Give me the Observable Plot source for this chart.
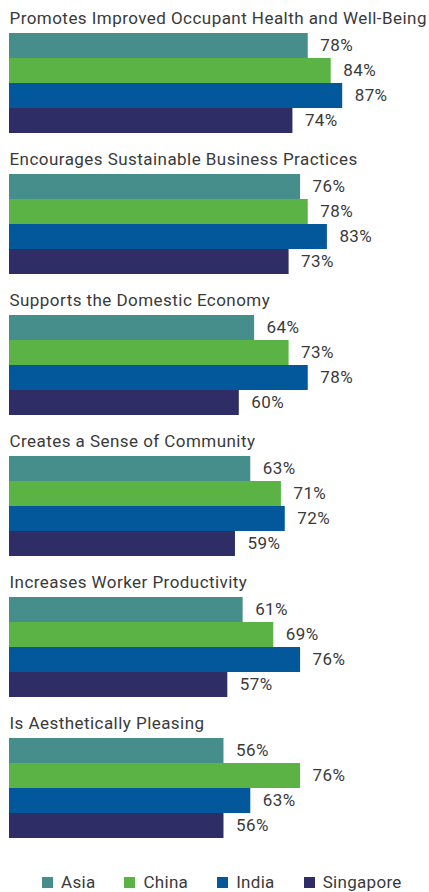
<!DOCTYPE html>
<html>
<head>
<meta charset="utf-8">
<script src="https://cdn.jsdelivr.net/npm/d3@7"></script>
<script src="https://cdn.jsdelivr.net/npm/@observablehq/plot@0.6"></script>
<style>
  html, body { margin: 0; padding: 0; background: #fff; }
  body { width: 429px; overflow: hidden; font-family: Roboto, "Noto Sans", sans-serif; }
  #legend { display: flex; align-items: center; padding-left: 42px; margin-top: 22px; font-size: 17px; color: #3a3a3a; letter-spacing: 0.3px; }
  #legend .item { display: flex; align-items: center; margin-right: 29px; }
  #legend .sw { width: 11px; height: 11px; margin-right: 8px; display: inline-block; }
</style>
</head>
<body>
<div id="chart"></div>
<div id="legend"></div>
<script>
const categories = [
  "Promotes Improved Occupant Health and Well-Being",
  "Encourages Sustainable Business Practices",
  "Supports the Domestic Economy",
  "Creates a Sense of Community",
  "Increases Worker Productivity",
  "Is Aesthetically Pleasing"
];
const regions = ["Asia", "China", "India", "Singapore"];
const colors = ["#458E8B", "#5BB346", "#02589A", "#2E2D65"];
const asia      = [78, 76, 64, 63, 61, 56];
const china     = [84, 78, 73, 71, 69, 76];
const india     = [87, 83, 78, 72, 76, 63];
const singapore = [74, 73, 60, 59, 57, 56];

const series = [asia, china, india, singapore];
const data = [];
categories.forEach((c, i) => {
  regions.forEach((r, j) => data.push({category: c, region: r, value: series[j][i]}));
});

const plot = Plot.plot({
  width: 429,
  height: 850,
  marginTop: 30,
  marginBottom: 8,
  marginLeft: 9,
  marginRight: 37,
  style: {fontFamily: "Roboto, sans-serif"},
  x: {domain: [0, 100], axis: null},
  y: {domain: regions, axis: null, padding: 0},
  fy: {domain: categories, axis: null, paddingInner: 0.275, paddingOuter: 0},
  color: {domain: regions, range: colors},
  marks: [
    Plot.barX(data, {fy: "category", y: "region", x: "value", fill: "region"}),
    Plot.text(data, {fy: "category", y: "region", x: "value", text: d => d.value + "%",
      dx: 12, textAnchor: "start", fontSize: 17, fill: "#3a3a3a"}),
    Plot.text(categories, {fy: d => d, text: d => d, frameAnchor: "top-left", lineAnchor: "bottom",
      dy: -9, fontSize: 17, fill: "#3a3a3a"})
  ]
});
document.getElementById("chart").appendChild(plot);

d3.select(plot).selectAll("text").each(function() {
  const s = this.textContent;
  if (categories.includes(s)) this.style.letterSpacing = "0.45px";
  else if (s.endsWith("%")) this.style.letterSpacing = "0.4px";
});

const legend = document.getElementById("legend");
regions.forEach((r, i) => {
  const item = document.createElement("div");
  item.className = "item";
  const sw = document.createElement("span");
  sw.className = "sw";
  sw.style.background = colors[i];
  const t = document.createElement("span");
  t.textContent = r;
  item.appendChild(sw);
  item.appendChild(t);
  legend.appendChild(item);
});
</script>
</body>
</html>
